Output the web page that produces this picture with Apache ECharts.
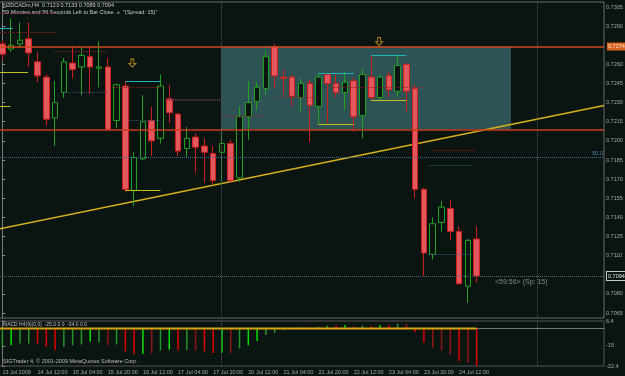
<!DOCTYPE html>
<html>
<head>
<meta charset="utf-8">
<title>NZDCADm,H4</title>
<script src="https://cdn.jsdelivr.net/npm/echarts@6/dist/echarts.min.js"></script>
<style>
  html, body { margin: 0; padding: 0; background: #0a1410; }
  #chart { width: 625px; height: 376px; }
</style>
</head>
<body>
<div id="chart"></div>
<script>
// H4 bars, first visible bar is 13 Jul 20:00, labels every 4 bars
var barCount = 69 // 55 bars + shifted empty space on the right
var dateLabels = ['13 Jul 2009', '14 Jul 12:00', '15 Jul 04:00', '15 Jul 20:00', '16 Jul 12:00', '17 Jul 04:00', '17 Jul 20:00',
  '20 Jul 12:00', '21 Jul 04:00', '21 Jul 20:00', '22 Jul 12:00', '23 Jul 04:00', '23 Jul 20:00', '24 Jul 12:00']

var opens = [0.7276, 0.7272, 0.7276, 0.7280, 0.7262, 0.7250, 0.7218, 0.7238, 0.7261, 0.7258,
  0.7266, 0.7257, 0.7258, 0.7216, 0.7243, 0.7161, 0.7186, 0.7216, 0.7202, 0.7233,
  0.7221, 0.7194, 0.7203, 0.7196, 0.7190, 0.7191, 0.7198, 0.7171, 0.7219, 0.7231,
  0.7241, 0.7274, 0.7250, 0.7250, 0.7234, 0.7245, 0.7227, 0.7252, 0.7245, 0.7238,
  0.7247, 0.7220, 0.7250, 0.7234, 0.7251, 0.7239, 0.7260, 0.7241, 0.7162, 0.7111,
  0.7136, 0.7147, 0.7129, 0.7086, 0.7123]
var closes = [0.7268, 0.7275, 0.7279, 0.7269, 0.7251, 0.7217, 0.7230, 0.7262, 0.7256, 0.7267,
  0.7258, 0.7258, 0.7209, 0.7244, 0.7162, 0.7187, 0.7215, 0.7200, 0.7243, 0.7222,
  0.7192, 0.7202, 0.7195, 0.7191, 0.7169, 0.7198, 0.7169, 0.7219, 0.7230, 0.7242,
  0.7266, 0.7251, 0.7249, 0.7235, 0.7245, 0.7228, 0.7250, 0.7245, 0.7238, 0.7246,
  0.7219, 0.7252, 0.7234, 0.7250, 0.7240, 0.7259, 0.7239, 0.7162, 0.7112, 0.7135,
  0.7148, 0.7129, 0.7088, 0.7122, 0.7094]
var lows = [0.7263, 0.7270, 0.7273, 0.7258, 0.7246, 0.7212, 0.7196, 0.7234, 0.7249, 0.7236,
  0.7237, 0.7242, 0.7208, 0.7210, 0.7160, 0.7149, 0.7185, 0.7188, 0.7198, 0.7214,
  0.7188, 0.7187, 0.7175, 0.7167, 0.7166, 0.7167, 0.7167, 0.7168, 0.7201, 0.7224,
  0.7236, 0.7242, 0.7236, 0.7227, 0.7223, 0.7199, 0.7213, 0.7214, 0.7234, 0.7224,
  0.7207, 0.7202, 0.7232, 0.7232, 0.7234, 0.7234, 0.7223, 0.7155, 0.7094, 0.7107,
  0.7129, 0.7122, 0.7087, 0.7073, 0.7089]
var highs = [0.7279, 0.7296, 0.7293, 0.7293, 0.7270, 0.7252, 0.7247, 0.7265, 0.7274, 0.7273,
  0.7274, 0.7278, 0.7265, 0.7245, 0.7247, 0.7191, 0.7236, 0.7227, 0.7252, 0.7244,
  0.7222, 0.7211, 0.7206, 0.7202, 0.7196, 0.7210, 0.7201, 0.7227, 0.7247, 0.7246,
  0.7271, 0.7276, 0.7256, 0.7252, 0.7249, 0.7248, 0.7253, 0.7253, 0.7252, 0.7254,
  0.7250, 0.7257, 0.7267, 0.7252, 0.7254, 0.7267, 0.7261, 0.7244, 0.7163, 0.7140,
  0.7153, 0.7154, 0.7133, 0.7123, 0.7133]

// lower window histogram
var histValues = [-15.9, -14.5, -13.0, -13.0, -13.0, -15.9, -18.9, -15.9, -14.5, -13.8,
  -11.5, -12.1, -14.5, -13.8, -19.8, -22.0, -21.8, -21.8, -18.9, -18.3,
  -18.9, -18.9, -19.1, -19.8, -21.2, -20.9, -21.2, -17.4, -14.5, -10.9,
  -5.6, -3.9, -1.5, -0.3, 0.9, 0.6, 1.4, 2.6, 2.6, 2.9,
  1.8, 2.6, 2.0, 2.9, 2.6, 4.1, 4.1, -3.0, -12.1, -16.8,
  -19.1, -22.7, -28.0, -29.5, -32.4]
// 2 strong up, 1 up, -1 down, -2 weak down
var histState = [1, 2, 1, 1, -1, -1, -1, 1, 1, 1,
  2, 1, -2, 1, -1, -1, 2, -2, 1, 2,
  -1, 1, -2, -1, -1, 2, -2, 1, 2, 2,
  1, 1, 1, 1, 1, -1, 1, 1, -1, 2,
  -2, 1, -1, 2, -1, 1, -2, -1, -1, -2,
  -2, -2, -1, -2, -1]

var priceTicks = [0.7305, 0.7290, 0.7260, 0.7245, 0.7230, 0.7215, 0.7200, 0.7185, 0.7170, 0.7155,
  0.7140, 0.7125, 0.7110, 0.7080, 0.7065]
var macdTicks = [6.4, -15, -32.4]

var resistance = 0.7274
var support = 0.7209
var fibo50 = 0.7187
var bid = 0.7094
var trendBars = [-0.5, 68.5]
var trendPrices = [0.71307, 0.72277]
var zoneBars = [24.9, 57.9]
var separatorBars = [24.9, 60.9]
var zeroLineBars = [-0.5, 54]
var arrowBars = [14.8, 42.9]
var arrowPrices = [0.7261, 0.7278]
// [fromBar, toBar, price]
var fractalHighs = [[-0.5, 1.2, 0.7288], [14, 18, 0.7247], [36, 40, 0.7253], [42, 46, 0.7267]]
var fractalLows = [[-0.5, 2.9, 0.7254], [-0.5, 0.9, 0.7227], [14, 18, 0.7161], [36, 40, 0.7213], [42, 46, 0.7232]]
var redDots = [[-0.5, 6, 0.7300], [-0.5, 6, 0.7285], [6, 12, 0.7270], [12.5, 18, 0.7242], [18.5, 24.9, 0.7232],
  [25, 30, 0.7219], [31, 36, 0.7234], [37, 48, 0.7242], [48.7, 53.8, 0.7193]]
var blueDots = [[7, 12, 0.7238], [14.5, 18, 0.7216], [19, 24.9, 0.7233], [48.5, 53.5, 0.7181], [48.5, 53.5, 0.7111]]

var histColors = { '2': '#00e000', '1': '#23952a', '-1': '#e00000', '-2': '#8c1616' }
var fontName = 'Liberation Sans'

var categories = []
for (var i = 0; i < barCount; i++) {
  categories.push(String(i))
}
var candleData = opens.map(function (o, i) { return [o, closes[i], lows[i], highs[i]] })
var histData = histValues.map(function (v, i) {
  return { value: v, itemStyle: { color: histColors[String(histState[i])] } }
})
var segs = function (list) {
  return list.map(function (s) { return [{ coord: [s[0], s[2]] }, { coord: [s[1], s[2]] }] })
}
var segLines = function (list, color, type) {
  return {
    type: 'line',
    xAxisIndex: 2,
    yAxisIndex: 0,
    data: [],
    z: 2,
    markLine: {
      silent: true,
      precision: 5,
      symbol: ['none', 'none'],
      label: { show: false },
      lineStyle: { color: color, width: 1, type: type },
      data: segs(list),
    },
  }
}

var chart = echarts.init(document.getElementById('chart'))
chart.setOption({
  animation: false,
  backgroundColor: '#0a1410',
  grid: [
    { left: -2, right: 21, top: 2, height: 316, show: true, borderColor: '#6a6a6a', borderWidth: 1, outerBoundsMode: 'none', containLabel: false },
    { left: -2, right: 21, top: 321, height: 45, show: true, borderColor: '#555', borderWidth: 1, outerBoundsMode: 'none', containLabel: false },
  ],
  xAxis: [
    { type: 'category', gridIndex: 0, data: categories, show: false },
    {
      type: 'category',
      gridIndex: 1,
      data: categories,
      axisLine: { lineStyle: { color: '#777' } },
      axisTick: {
        alignWithLabel: true,
        length: 2,
        interval: function (idx) { return idx % 4 === 0 && idx <= 52 },
        lineStyle: { color: '#888' },
      },
      axisLabel: {
        interval: function (idx) { return idx % 4 === 0 && idx <= 52 },
        formatter: function (v, idx) { return dateLabels[idx / 4] || '' },
        align: 'left',
        margin: 3,
        color: '#a8a8a8',
        fontSize: 5.5,
        fontFamily: fontName,
      },
      splitLine: { show: false },
    },
    { type: 'value', gridIndex: 0, min: -0.5, max: barCount - 0.5, show: false },
    { type: 'value', gridIndex: 1, min: -0.5, max: barCount - 0.5, show: false },
  ],
  yAxis: [
    {
      type: 'value',
      gridIndex: 0,
      position: 'right',
      min: 0.706108,
      max: 0.730892,
      axisLine: { show: true, lineStyle: { color: '#7a7a7a' } },
      axisTick: { show: true, customValues: priceTicks, length: 3, lineStyle: { color: '#888' } },
      axisLabel: {
        customValues: priceTicks,
        formatter: function (v) { return v.toFixed(4) },
        color: '#a8a8a8',
        fontSize: 5.5,
        fontFamily: fontName,
        margin: 2,
      },
      splitLine: { show: false },
    },
    {
      type: 'value',
      gridIndex: 1,
      position: 'right',
      min: -32.4,
      max: 6.4,
      axisLine: { show: true, lineStyle: { color: '#7a7a7a' } },
      axisTick: { show: true, customValues: macdTicks, length: 3, lineStyle: { color: '#888' } },
      axisLabel: {
        customValues: macdTicks,
        formatter: function (v) { return String(v) },
        color: '#a8a8a8',
        fontSize: 5.5,
        fontFamily: fontName,
        margin: 2,
      },
      splitLine: { show: false },
    },
  ],
  series: [
    {
      // box zone and horizontal levels
      type: 'line',
      xAxisIndex: 2,
      yAxisIndex: 0,
      data: [],
      z: 1,
      clip: false,
      markArea: {
        silent: true,
        itemStyle: { color: '#2d5355' },
        data: [[{ coord: [zoneBars[0], resistance] }, { coord: [zoneBars[1], support] }]],
      },
      markLine: {
        silent: true,
        precision: 5,
        symbol: ['none', 'none'],
        data: [
          {
            yAxis: resistance,
            lineStyle: { color: '#d0481e', width: 1.5, type: 'solid' },
            label: {
              show: true, position: 'end', distance: 3, formatter: resistance.toFixed(4),
              backgroundColor: '#d8641e', color: '#fbe8d8', fontSize: 5.5, fontFamily: fontName, padding: [1, 1],
            },
          },
          {
            yAxis: support,
            lineStyle: { color: '#c83c20', width: 1.5, type: 'solid' },
            label: { show: false },
          },
          {
            yAxis: fibo50,
            lineStyle: { color: '#3d6d9c', width: 1, type: 'dotted' },
            label: {
              show: true, position: 'insideEndTop', distance: 1, formatter: '50.0',
              color: '#4f82bb', fontSize: 5.5, fontFamily: fontName,
            },
          },
          {
            yAxis: bid,
            lineStyle: { color: '#56687c', width: 1, type: 'dotted' },
            label: {
              show: true, position: 'end', distance: 3, formatter: bid.toFixed(4),
              backgroundColor: '#0a1410', borderColor: '#c8c8c8', borderWidth: 1,
              color: '#e4e4e4', fontSize: 5.5, fontFamily: fontName, padding: [1, 1],
            },
          },
          { xAxis: separatorBars[0], lineStyle: { color: '#555', width: 1, type: 'dotted' }, label: { show: false } },
          { xAxis: separatorBars[1], lineStyle: { color: '#555', width: 1, type: 'dotted' }, label: { show: false } },
        ],
      },
    },
    // dotted channel steps
    segLines(redDots, '#8a2424', 'dotted'),
    segLines(blueDots, '#34557a', 'dotted'),
    // fractal highs / lows
    segLines(fractalHighs, '#1fb4bc', 'solid'),
    segLines(fractalLows, '#c8c020', 'solid'),
    {
      // trend line
      type: 'line',
      xAxisIndex: 2,
      yAxisIndex: 0,
      data: [[trendBars[0], trendPrices[0]], [trendBars[1], trendPrices[1]]],
      symbol: 'none',
      z: 2,
      lineStyle: { color: '#d8b21c', width: 1.5 },
    },
    {
      type: 'candlestick',
      xAxisIndex: 0,
      yAxisIndex: 0,
      data: candleData,
      barWidth: 6,
      z: 4,
      itemStyle: {
        color: '#0a1410',
        color0: '#e2585c',
        borderColor: '#22a022',
        borderColor0: '#cc1e1e',
        borderWidth: 1,
      },
    },
    {
      type: 'scatter',
      xAxisIndex: 2,
      yAxisIndex: 0,
      data: arrowBars.map(function (b, i) { return [b, arrowPrices[i]] }),
      symbol: 'path://M3,0 L7,0 L7,6 L10,6 L5,11 L0,6 L3,6 Z',
      symbolSize: [7, 8],
      z: 5,
      itemStyle: { color: 'rgba(0,0,0,0)', borderColor: '#d8a41c', borderWidth: 1 },
    },
    {
      type: 'bar',
      xAxisIndex: 1,
      yAxisIndex: 1,
      data: histData,
      barWidth: 1.5,
      z: 2,
    },
    {
      type: 'line',
      xAxisIndex: 3,
      yAxisIndex: 1,
      data: [[zeroLineBars[0], 0], [zeroLineBars[1], 0]],
      symbol: 'none',
      z: 3,
      lineStyle: { color: '#d8a414', width: 2 },
      markLine: {
        silent: true,
        precision: 5,
        symbol: ['none', 'none'],
        label: { show: false },
        lineStyle: { color: '#555', width: 1, type: 'dotted' },
        data: [{ xAxis: separatorBars[0] }, { xAxis: separatorBars[1] }],
      },
    },
  ],
  graphic: [
    { type: 'text', left: 3, top: 2, style: { text: 'NZDCADm,H4  0.7123 0.7133 0.7089 0.7094', fill: '#c8c8c8', font: '5.5px "Liberation Sans"' } },
    { type: 'text', left: 3, top: 9, style: { text: '59 Minutes and 56 Seconds Left to Bar Close. »  "(Spread: 15)"', fill: '#c8c8c8', font: '5.5px "Liberation Sans"' } },
    { type: 'text', left: 495, top: 279, style: { text: '<59:56> (Sp: 15)', fill: '#8a8a8a', font: '7px "Liberation Sans"' } },
    { type: 'text', left: 3, top: 322, style: { text: 'MACD H4(9)(0,0)  -25.0 0.0  -34.0 0.0', fill: '#bdbdbd', font: '5px "Liberation Sans"' } },
    { type: 'text', left: 3, top: 358, style: { text: 'SIGTrader 4, © 2001-2009 MetaQuotes Software Corp.', fill: '#bdbdbd', font: '5.5px "Liberation Sans"' } },
  ],
})
</script>
</body>
</html>
